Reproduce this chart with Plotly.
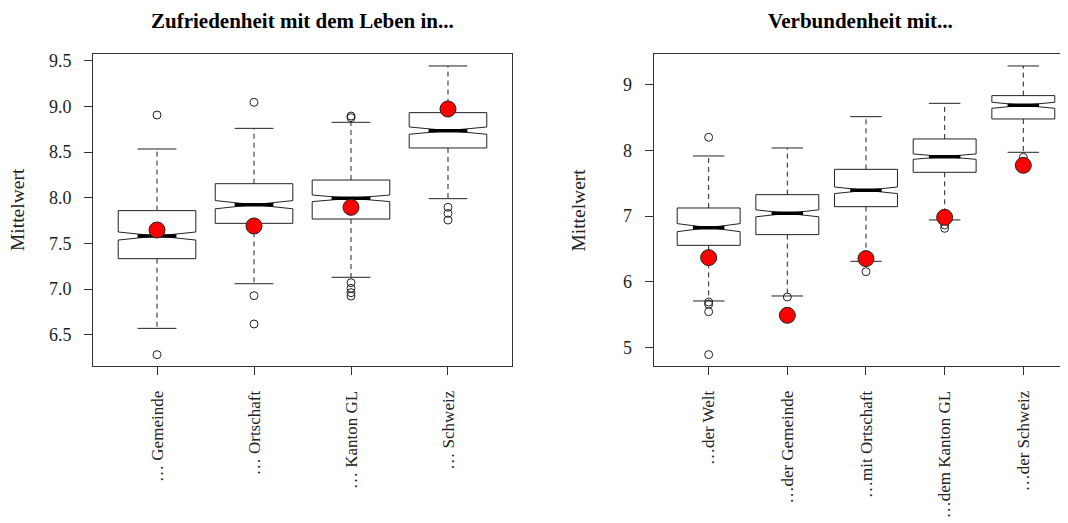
import plotly.graph_objects as go

# ---------------- data: left panel ----------------
left_title = "Zufriedenheit mit dem Leben in..."
left_cats = ["… Gemeinde", "… Ortschaft", "… Kanton GL", "… Schweiz"]
left_q1 = [7.332, 7.719, 7.766, 8.544]
left_med = [7.580, 7.923, 7.993, 8.734]
left_q3 = [7.858, 8.153, 8.193, 8.931]
left_lo = [6.569, 7.058, 7.128, 7.989]
left_hi = [8.533, 8.759, 8.825, 9.442]
left_notch = [0.044, 0.045, 0.036, 0.040]
left_mean = [7.646, 7.690, 7.894, 8.971]
left_outliers = [
    [8.905, 6.281],
    [9.044, 6.927, 6.617],
    [8.894, 8.876, 7.069, 7.007, 6.960, 6.923],
    [7.894, 7.828, 7.755],
]
left_ticks = [6.5, 7.0, 7.5, 8.0, 8.5, 9.0, 9.5]

# ---------------- data: right panel ----------------
right_title = "Verbundenheit mit..."
right_cats = ["…der Welt", "…der Gemeinde", "…mit Ortschaft", "…dem Kanton GL", "…der Schweiz"]
right_q1 = [6.556, 6.719, 7.144, 7.667, 8.478]
right_med = [6.825, 7.043, 7.393, 7.905, 8.686]
right_q3 = [7.124, 7.327, 7.712, 8.174, 8.833]
right_lo = [5.710, 5.786, 6.313, 6.942, 7.971]
right_hi = [7.915, 8.037, 8.513, 8.716, 9.284]
right_notch = [0.061, 0.053, 0.050, 0.041, 0.046]
right_mean = [6.369, 5.492, 6.354, 6.982, 7.773]
right_outliers = [
    [8.199, 5.694, 5.660, 5.547, 4.894],
    [5.770],
    [6.155],
    [6.866, 6.815],
    [7.895],
]
right_ticks = [5, 6, 7, 8, 9]

# ---------------- styling ----------------
FONT = "Liberation Serif"
INK = "#222222"
BOXW = 0.8
CAP = 0.2

fig = go.Figure()


def add_panel(xa, ya, q1, med, q3, lo, hi, notch, mean, outl):
    pos = list(range(1, len(q1) + 1))
    # dashed whiskers
    wx, wy = [], []
    for p, a, b, c, d in zip(pos, q1, q3, lo, hi):
        wx += [p, p, None, p, p, None]
        wy += [b, d, None, a, c, None]
    fig.add_trace(go.Scatter(x=wx, y=wy, mode="lines", xaxis=xa, yaxis=ya,
                             line=dict(color=INK, width=1, dash="5px,4px"),
                             showlegend=False, hoverinfo="skip"))
    # whisker caps
    cx, cy = [], []
    for p, c, d in zip(pos, lo, hi):
        cx += [p - CAP, p + CAP, None, p - CAP, p + CAP, None]
        cy += [d, d, None, c, c, None]
    fig.add_trace(go.Scatter(x=cx, y=cy, mode="lines", xaxis=xa, yaxis=ya,
                             line=dict(color=INK, width=1),
                             showlegend=False, hoverinfo="skip"))
    # notched boxes
    for p, a, m, b, n in zip(pos, q1, med, q3, notch):
        fig.add_trace(go.Box(x=[p], q1=[a], median=[m], q3=[b],
                             lowerfence=[a], upperfence=[b], notchspan=[n],
                             notched=True, notchwidth=0.5, width=BOXW,
                             whiskerwidth=0, boxpoints=False,
                             fillcolor="white", line=dict(color=INK, width=1),
                             xaxis=xa, yaxis=ya, showlegend=False, hoverinfo="skip"))
    # thick medians
    mx, my = [], []
    for p, m in zip(pos, med):
        mx += [p - CAP, p + CAP, None]
        my += [m, m, None]
    fig.add_trace(go.Scatter(x=mx, y=my, mode="lines", xaxis=xa, yaxis=ya,
                             line=dict(color="black", width=3.5),
                             showlegend=False, hoverinfo="skip"))
    # outliers
    ox, oy = [], []
    for p, vals in zip(pos, outl):
        for v in vals:
            ox.append(p)
            oy.append(v)
    fig.add_trace(go.Scatter(x=ox, y=oy, mode="markers", xaxis=xa, yaxis=ya,
                             marker=dict(symbol="circle-open", size=8,
                                         color=INK, line=dict(width=1, color=INK)),
                             showlegend=False, hoverinfo="skip"))
    # means (red)
    fig.add_trace(go.Scatter(x=pos, y=mean, mode="markers", xaxis=xa, yaxis=ya,
                             marker=dict(symbol="circle", size=16, color="#ff0000",
                                         line=dict(width=1, color="#222222")),
                             showlegend=False, hoverinfo="skip"))


add_panel("x", "y", left_q1, left_med, left_q3, left_lo, left_hi,
          left_notch, left_mean, left_outliers)
add_panel("x2", "y2", right_q1, right_med, right_q3, right_lo, right_hi,
          right_notch, right_mean, right_outliers)

xtickfont = dict(family=FONT, size=17, color=INK)
ytickfont = dict(family=FONT, size=18, color=INK)
axis_common = dict(showgrid=False, zeroline=False, showline=True,
                   linecolor="#333333", linewidth=1, ticks="outside",
                   ticklen=8, tickwidth=1, tickcolor="#333333")

# page body has an 8px default margin: layout coordinates are offset by it
fig.update_layout(
    width=1060, height=515,
    margin=dict(l=85, r=0, t=46, b=157),
    paper_bgcolor="white", plot_bgcolor="white",
    boxmode="overlay",
    showlegend=False,
    xaxis=dict(domain=[0, 419 / 975], range=[0.34, 4.66],
               tickvals=list(range(1, len(left_cats) + 1)), ticktext=left_cats,
               tickangle=-90, mirror=True, ticklabelstandoff=9, anchor="y",
               tickfont=xtickfont, **axis_common),
    yaxis=dict(range=[6.157, 9.573], tickvals=left_ticks, tickformat=".1f",
               mirror=True, ticklabelstandoff=9, anchor="x",
               tickfont=ytickfont, **axis_common),
    xaxis2=dict(domain=[(653.6 - 93) / 975, 1], range=[0.3, 5.568],
                tickvals=list(range(1, len(right_cats) + 1)), ticktext=right_cats,
                tickangle=-90, mirror=True, ticklabelstandoff=9, anchor="y2",
                tickfont=xtickfont, **axis_common),
    yaxis2=dict(range=[4.721, 9.466], tickvals=right_ticks,
                mirror=False, ticklabelstandoff=9, anchor="x2",
                tickfont=ytickfont, **axis_common),
)

annos = []
for xd, txt in (("x domain", left_title), ("x2 domain", right_title)):
    annos.append(dict(xref=xd, yref="paper", x=0.5, y=1 + 33 / 312,
                      xanchor="center", yanchor="middle", showarrow=False,
                      text="<b>" + txt + "</b>",
                      font=dict(family=FONT, size=21, color="black")))
for xd, yd in (("x domain", "y domain"), ("x2 domain", "y2 domain")):
    annos.append(dict(xref=xd, yref=yd, x=0, y=0.5, xshift=-76,
                      xanchor="center", yanchor="middle", textangle=-90,
                      showarrow=False, text="Mittelwert",
                      font=dict(family=FONT, size=19.5, color=INK)))
fig.update_layout(annotations=annos)

fig.write_html("out.html")
